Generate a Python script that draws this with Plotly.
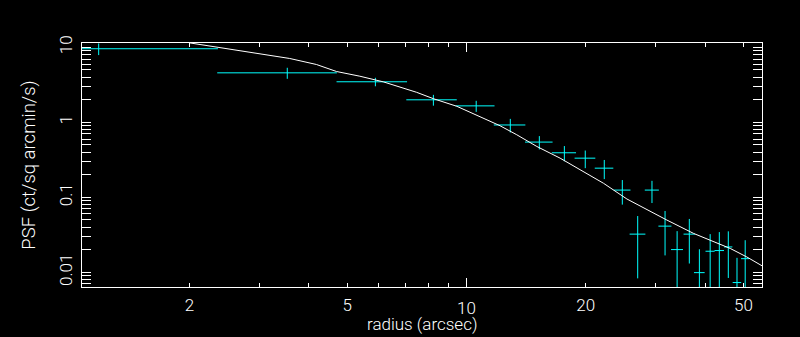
import plotly.graph_objects as go

# Binned PSF data (radius in arcsec, PSF in ct/sq arcmin/s)
radius = [1.18, 3.53, 5.89, 8.25, 10.58, 12.9, 15.27, 17.66, 19.94, 22.27, 24.73,
          27.04, 29.38, 31.7, 34.0, 36.5, 38.7, 41.2, 43.45, 45.78, 48.15, 50.5]
radius_err = [1.18, 1.18, 1.19, 1.2, 1.19, 1.18, 1.22, 1.24, 1.2, 1.2, 1.2,
              1.24, 1.2, 1.2, 1.18, 1.2, 1.2, 1.1, 1.2, 1.1, 1.2, 1.2]
psf = [9.6, 4.58, 3.48, 2.0, 1.66, 0.923, 0.546, 0.393, 0.333, 0.245, 0.125,
       0.0323, 0.125, 0.0413, 0.0201, 0.0323, 0.0099, 0.0191, 0.0195, 0.0218, 0.0073, 0.0152]
psf_err = [1.7, 0.77, 0.45, 0.33, 0.28, 0.19, 0.11, 0.09, 0.088, 0.07, 0.045,
           0.024, 0.041, 0.0245, 0.0153, 0.0192, 0.0104, 0.0132, 0.0149, 0.0134, 0.0083, 0.0116]

# Model PSF curve
model_radius = [2.0, 2.32, 2.6, 3.0, 3.58, 4.18, 4.7, 5.38, 6.17, 7.48, 8.25, 9.45, 11.02,
                12.15, 13.39, 15.05, 17.23, 19.73, 22.17, 25.4, 29.1, 32.05, 37.43, 42.0,
                46.3, 51.0, 55.7]
model_psf = [11.5, 10.2, 9.4, 8.31, 7.12, 5.92, 4.77, 4.13, 3.47, 2.52, 2.07, 1.64, 1.14,
             0.902, 0.684, 0.477, 0.333, 0.221, 0.154, 0.095, 0.0642, 0.0497, 0.033, 0.0255,
             0.0208, 0.016, 0.0122]

# Tick labels
x_major = [10]
x_labeled = [2, 5, 20, 50]
x_minor = [3, 4, 6, 7, 8, 9, 30, 40]
y_major = [0.01, 0.1, 1, 10]
y_labels = ["0.01", "0.1", "1", "10"]
y_minor = [m * 10.0 ** e for e in range(-3, 2) for m in range(2, 10)]
x_title = "radius (arcsec)"
y_title = "PSF (ct/sq arcmin/s)"

CYAN = "#00ffff"
WHITE = "#ffffff"
FONT = "Roboto"

fig = go.Figure()

fig.add_trace(go.Scatter(
    x=radius, y=psf, mode="markers",
    marker=dict(size=0, color="rgba(0,0,0,0)"),
    error_x=dict(type="data", array=radius_err, color=CYAN, thickness=1, width=0),
    error_y=dict(type="data", array=psf_err, color=CYAN, thickness=1, width=0),
    showlegend=False, hoverinfo="x+y",
))

fig.add_trace(go.Scatter(
    x=model_radius, y=model_psf, mode="lines",
    line=dict(color=WHITE, width=1),
    xaxis="x2", yaxis="y",
    showlegend=False,
))

xr = [0.0298, 1.7457]
yr = [-2.196, 1.0588]

common_axis = dict(
    type="log", showgrid=False, zeroline=False, automargin=False,
    ticks="inside", tickcolor=WHITE, tickwidth=1,
)

fig.update_layout(
    template="none",
    width=800, height=337,
    margin=dict(l=82, r=38, t=43, b=50),
    paper_bgcolor="black", plot_bgcolor="black",
    font=dict(family=FONT, color=WHITE, size=17, weight=300),
    xaxis=dict(
        **common_axis, range=xr,
        tickmode="array", tickvals=x_major, ticktext=[str(v) for v in x_major],
        ticklen=9, showline=True, linecolor=WHITE, linewidth=1, mirror="allticks",
        minor=dict(tickmode="array", tickvals=x_minor, ticks="inside", ticklen=4,
                   tickcolor=WHITE, tickwidth=1, showgrid=False),
        ticklabelstandoff=6,
    ),
    xaxis2=dict(
        **common_axis, range=xr, overlaying="x", anchor="y", side="bottom",
        tickmode="array", tickvals=x_labeled, ticktext=[str(v) for v in x_labeled],
        ticklen=4, showline=False, mirror="allticks",
        ticklabelstandoff=6,
    ),
    yaxis=dict(
        **common_axis, range=yr,
        tickmode="array", tickvals=y_major, ticktext=y_labels, tickangle=-90,
        ticklen=9, showline=True, linecolor=WHITE, linewidth=1, mirror="allticks",
        minor=dict(tickmode="array", tickvals=y_minor, ticks="inside", ticklen=5,
                   tickcolor=WHITE, tickwidth=1, showgrid=False),
        ticklabelstandoff=2,
        title=dict(text=y_title, font=dict(size=18.5)),
    ),
    annotations=[dict(
        text=x_title, xref="paper", yref="paper", x=0.5, y=0,
        xanchor="center", yanchor="bottom", yshift=-49, showarrow=False,
        font=dict(size=17, color=WHITE, family=FONT, weight=300),
    )],
)

fig.write_html(
    "out.html",
    config={"displayModeBar": False},
    post_script="document.body.style.margin='0';document.body.style.background='black';",
)
